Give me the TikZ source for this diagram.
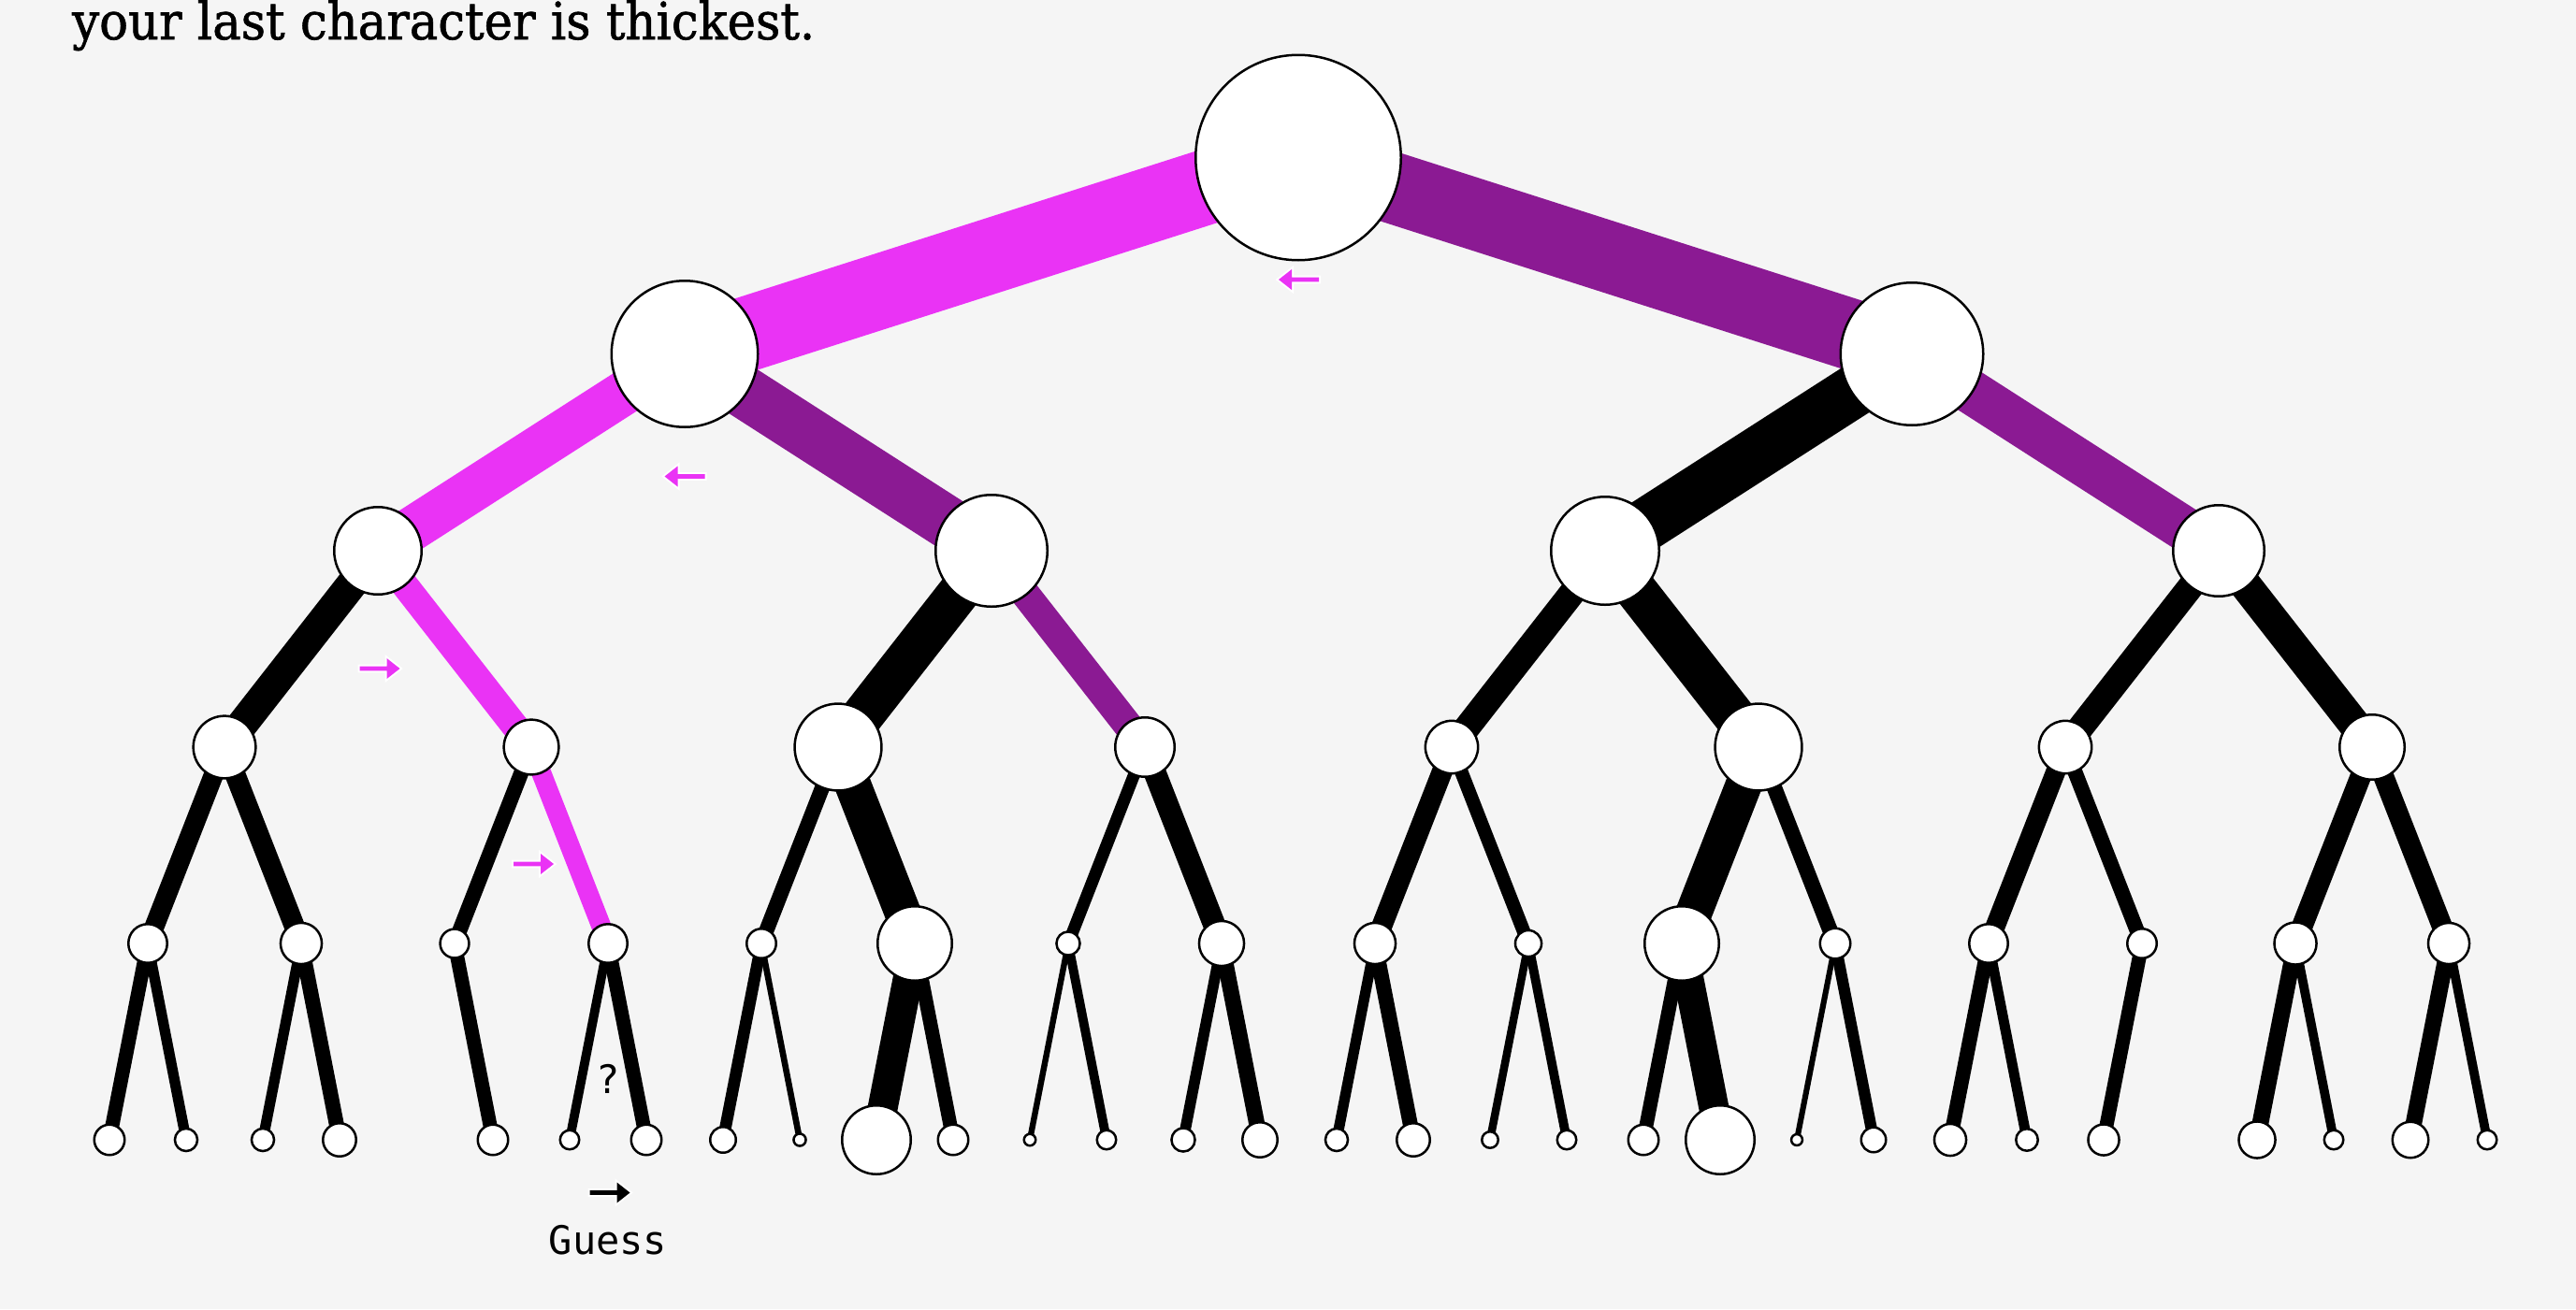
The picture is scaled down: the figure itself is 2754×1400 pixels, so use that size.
\documentclass[tikz,border=0pt]{standalone}
\usepackage{fontspec}
\setmainfont{DejaVu Serif}
\newfontfamily\titlef{DejaVu Serif}[FakeBold=1.2]
\newfontfamily\monof{DejaVu Sans Mono}
\usepackage{graphicx}
\definecolor{mag}{HTML}{EA33F5}
\definecolor{pur}{HTML}{8B1A93}
\definecolor{bgc}{HTML}{F5F5F5}
\pgfdeclarelayer{back}
\pgfdeclarelayer{edges}
\pgfsetlayers{back,edges,main}
\tikzset{
  nd/.style={circle, draw=black, fill=white, line width=2.5pt, inner sep=0pt, minimum size={2*#1-2.5}},
  lbl/.style={font=\monof\fontsize{42}{48}\selectfont, inner sep=0pt, anchor=base},
}
\newcommand\edg[4]{\draw[line width=#3pt, draw=#4] (#1.center) -- (#2.center);}
\newcommand\dirarrow[3]{%
  \begin{scope}[shift={#1}, xscale=#2]
    \draw[white, line width=4pt, line join=miter] (-21,-2.4) -- (8,-2.4) -- (8,-11) -- (22,0) -- (8,11) -- (8,2.4) -- (-21,2.4) -- cycle;
    \fill[#3] (-21,-2.4) -- (8,-2.4) -- (8,-11) -- (22,0) -- (8,11) -- (8,2.4) -- (-21,2.4) -- cycle;
  \end{scope}}
\begin{document}
\begin{tikzpicture}[x=1pt,y=-1pt]
\begin{pgfonlayer}{back}
\fill[bgc] (0,0) rectangle (2754,1400);
\end{pgfonlayer}
\useasboundingbox (0,0) rectangle (2754,1400);

\node[anchor=base west, inner sep=0pt] (title) at (77,42) {\resizebox{794pt}{\height}{\titlef\fontsize{55}{60}\selectfont your last character is thickest.}};

% level 0
\node[nd=111] (r) at (1388,168.5) {};
% level 1
\node[nd=79.5] (a0) at (732,378.5) {};
\node[nd=77.5] (a1) at (2044,378.5) {};
% level 2
\node[nd=48] (b0) at (404,589) {};
\node[nd=61] (b1) at (1060,589) {};
\node[nd=59] (b2) at (1716,589) {};
\node[nd=50] (b3) at (2372,589) {};
% level 3
\node[nd=34.6] (c0) at (240,799) {};
\node[nd=30.6] (c1) at (568,799) {};
\node[nd=47.7] (c2) at (896,799) {};
\node[nd=33] (c3) at (1224,799) {};
\node[nd=29.4] (c4) at (1552,799) {};
\node[nd=47.7] (c5) at (1880,799) {};
\node[nd=29.4] (c6) at (2208,799) {};
\node[nd=36] (c7) at (2536,799) {};
% level 4
\node[nd=22] (d0) at (158,1009) {};
\node[nd=23.3] (d1) at (322,1009) {};
\node[nd=16.7] (d2) at (486,1009) {};
\node[nd=22] (d3) at (650,1009) {};
\node[nd=17] (d4) at (814,1009) {};
\node[nd=41] (d5) at (978,1009) {};
\node[nd=13.8] (d6) at (1142,1009) {};
\node[nd=25.3] (d7) at (1306,1009) {};
\node[nd=23.3] (d8) at (1470,1009) {};
\node[nd=15.3] (d9) at (1634,1009) {};
\node[nd=41] (d10) at (1798,1009) {};
\node[nd=17.5] (d11) at (1962,1009) {};
\node[nd=22] (d12) at (2126,1009) {};
\node[nd=17] (d13) at (2290,1009) {};
\node[nd=23.8] (d14) at (2454,1009) {};
\node[nd=23.3] (d15) at (2618,1009) {};
% level 5
\node[nd=17.5] (e0) at (117,1219) {};
\node[nd=13.3] (e1) at (199,1219) {};
\node[nd=13.3] (e2) at (281,1219) {};
\node[nd=19] (e3) at (363,1219) {};
\node[nd=17.5] (e5) at (527,1219) {};
\node[nd=11.5] (e6) at (609,1219) {};
\node[nd=17.5] (e7) at (691,1219) {};
\node[nd=15] (e8) at (773,1219) {};
\node[nd=7.8] (e9) at (855,1219) {};
\node[nd=38] (e10) at (937,1219) {};
\node[nd=17.5] (e11) at (1019,1219) {};
\node[nd=7.5] (e12) at (1101,1219) {};
\node[nd=11.5] (e13) at (1183,1219) {};
\node[nd=13.8] (e14) at (1265,1219) {};
\node[nd=20] (e15) at (1347,1219) {};
\node[nd=13.3] (e16) at (1429,1219) {};
\node[nd=19] (e17) at (1511,1219) {};
\node[nd=10] (e18) at (1593,1219) {};
\node[nd=11.5] (e19) at (1675,1219) {};
\node[nd=17.5] (e20) at (1757,1219) {};
\node[nd=38] (e21) at (1839,1219) {};
\node[nd=7.2] (e22) at (1921,1219) {};
\node[nd=14.5] (e23) at (2003,1219) {};
\node[nd=18.3] (e24) at (2085,1219) {};
\node[nd=13] (e25) at (2167,1219) {};
\node[nd=17.8] (e26) at (2249,1219) {};
\node[nd=20.8] (e28) at (2413,1219) {};
\node[nd=11.5] (e29) at (2495,1219) {};
\node[nd=20.5] (e30) at (2577,1219) {};
\node[nd=11.5] (e31) at (2659,1219) {};

\begin{pgfonlayer}{edges}
\edg{r}{a0}{80}{mag}
\edg{r}{a1}{76}{pur}
\edg{a0}{b0}{47.5}{mag}
\edg{a0}{b1}{56}{pur}
\edg{a1}{b2}{56}{black}
\edg{a1}{b3}{47.5}{pur}
\edg{b0}{c0}{33}{black}
\edg{b0}{c1}{29}{mag}
\edg{b1}{c2}{45}{black}
\edg{b1}{c3}{31}{pur}
\edg{b2}{c4}{28}{black}
\edg{b2}{c5}{45}{black}
\edg{b3}{c6}{28}{black}
\edg{b3}{c7}{34}{black}
\edg{c0}{d0}{21}{black}
\edg{c0}{d1}{22}{black}
\edg{c1}{d2}{16}{black}
\edg{c1}{d3}{21}{mag}
\edg{c2}{d4}{16}{black}
\edg{c2}{d5}{39}{black}
\edg{c3}{d6}{13}{black}
\edg{c3}{d7}{24}{black}
\edg{c4}{d8}{22}{black}
\edg{c4}{d9}{14.5}{black}
\edg{c5}{d10}{39}{black}
\edg{c5}{d11}{16.5}{black}
\edg{c6}{d12}{21}{black}
\edg{c6}{d13}{16}{black}
\edg{c7}{d14}{22.5}{black}
\edg{c7}{d15}{22}{black}
\edg{d0}{e0}{15}{black}
\edg{d0}{e1}{11.3}{black}
\edg{d1}{e2}{11.3}{black}
\edg{d1}{e3}{16}{black}
\edg{d2}{e5}{15}{black}
\edg{d3}{e6}{9.8}{black}
\edg{d3}{e7}{15}{black}
\edg{d4}{e8}{12.7}{black}
\edg{d4}{e9}{6.6}{black}
\edg{d5}{e10}{32}{black}
\edg{d5}{e11}{15}{black}
\edg{d6}{e12}{6.4}{black}
\edg{d6}{e13}{9.8}{black}
\edg{d7}{e14}{11.7}{black}
\edg{d7}{e15}{17}{black}
\edg{d8}{e16}{11.3}{black}
\edg{d8}{e17}{16}{black}
\edg{d9}{e18}{8.5}{black}
\edg{d9}{e19}{9.8}{black}
\edg{d10}{e20}{15}{black}
\edg{d10}{e21}{32}{black}
\edg{d11}{e22}{6.1}{black}
\edg{d11}{e23}{12.3}{black}
\edg{d12}{e24}{15.5}{black}
\edg{d12}{e25}{11}{black}
\edg{d13}{e26}{15}{black}
\edg{d14}{e28}{17.7}{black}
\edg{d14}{e29}{9.8}{black}
\edg{d15}{e30}{17.4}{black}
\edg{d15}{e31}{9.8}{black}
\end{pgfonlayer}

\dirarrow{(1389,299)}{-1}{mag}
\dirarrow{(732.5,509.5)}{-1}{mag}
\dirarrow{(405.5,715)}{1}{mag}
\dirarrow{(570,924)}{1}{mag}
\dirarrow{(651.5,1275.5)}{1}{black}

\node[lbl] (q) at (650,1169.5) {?};
\node[lbl] (guess) at (650,1341) {Guess};
\end{tikzpicture}
\end{document}
